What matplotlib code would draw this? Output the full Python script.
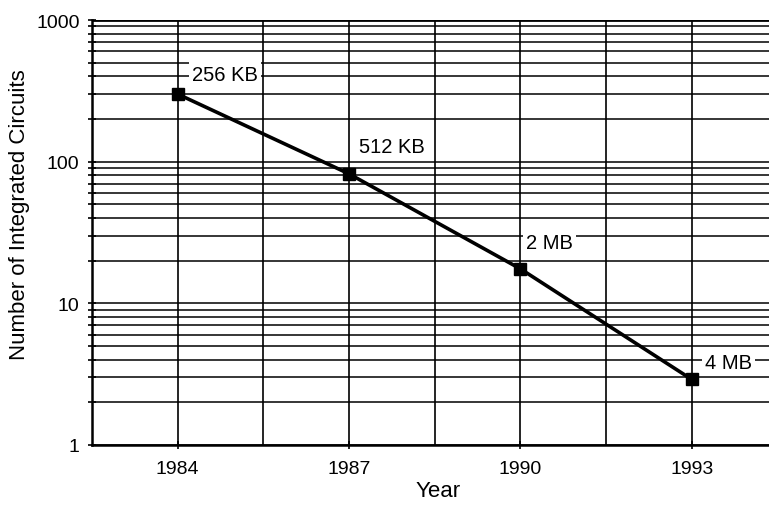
import matplotlib
matplotlib.use("Agg")
import matplotlib.pyplot as plt
import numpy as np

years = [1984, 1987, 1990, 1993]
chips = [300, 82, 17.5, 2.9]
labels = ["256 KB", "512 KB", "2 MB", "4 MB"]
label_x = [1984.25, 1987.18, 1990.1, 1993.23]
label_y = [410, 128, 27, 3.84]
xticks = [1984, 1987, 1990, 1993]
yticks = [1, 10, 100, 1000]

plt.rcParams['font.family'] = ['Liberation Sans', 'DejaVu Sans']

fig = plt.figure(figsize=(7.69, 5.06), dpi=100)
ax = fig.add_axes([92/769, 1-446/506, 1-92/769, (446-21)/506])
ax.set_yscale('log')
ax.set_xlim(1982.5, 1994.35)
ax.set_ylim(1, 1000)

# grid
for d in [1, 10, 100]:
    for m in range(1, 10):
        ax.axhline(d*m, color='black', lw=1.1, zorder=1)
ax.axhline(1000, color='black', lw=2.0, zorder=1)
for gx in np.arange(1982.5, 1995, 1.5):
    ax.axvline(gx, color='black', lw=1.2, zorder=1)

ax.plot(years, chips, color='black', lw=2.6, marker='s', ms=8, zorder=3)

for t, lx, ly in zip(labels, label_x, label_y):
    ax.text(lx, ly, t, fontsize=14.5, ha='left', va='center', zorder=4,
            bbox=dict(facecolor='white', edgecolor='none', pad=2.5))

ax.set_xticks(xticks)
ax.set_xticklabels([str(x) for x in xticks], fontsize=14)
ax.set_yticks(yticks)
ax.set_yticklabels([str(y) for y in yticks], fontsize=14)
ax.yaxis.set_minor_locator(matplotlib.ticker.LogLocator(subs=range(2, 10)))
ax.yaxis.set_minor_formatter(matplotlib.ticker.NullFormatter())
ax.tick_params(axis='both', which='both', direction='inout', length=6, width=1.2, colors='black')
ax.tick_params(axis='x', pad=8)
ax.tick_params(axis='y', pad=6)
for s in ['top', 'right']:
    ax.spines[s].set_visible(False)
ax.spines['left'].set_linewidth(1.8)
ax.spines['bottom'].set_linewidth(1.8)

ax.set_xlabel("Year", fontsize=16)
ax.xaxis.set_label_coords((438-92)/677, -(481-446)/425)
ax.set_ylabel("Number of Integrated Circuits", fontsize=16)
ax.yaxis.set_label_coords(-(92-30)/677, (446-215)/425)

fig.savefig("out.png", dpi=100)
